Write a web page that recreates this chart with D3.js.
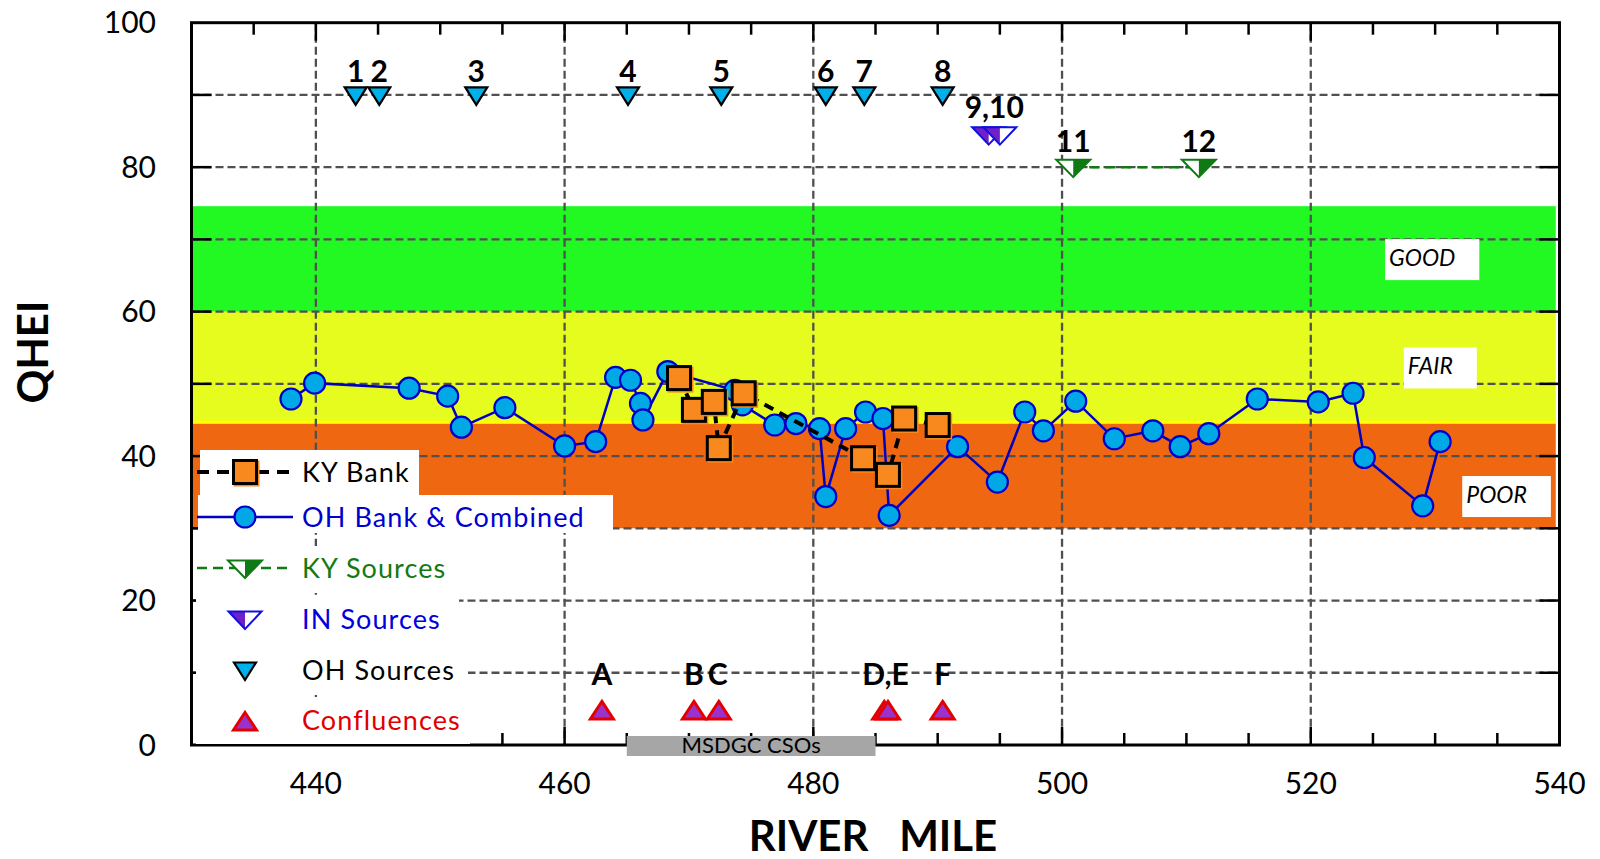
<!DOCTYPE html>
<html lang="en">
<head>
<meta charset="UTF-8">
<title>QHEI vs River Mile</title>
<style>
  body { margin: 0; background: #fff; }
  text { font-family: Lato, "Open Sans", sans-serif; }
</style>
</head>
<body>
<div id="chart"></div>
<script src="https://cdn.jsdelivr.net/npm/d3@7"></script>
<script>
// values
var ohMiles = [438.0, 439.9, 447.5, 450.6, 451.7, 455.2, 460.0, 462.5, 464.1, 465.3, 466.1, 466.3, 468.3, 473.7, 474.3, 476.9, 478.6, 480.5, 481.0, 482.6, 484.2, 485.6, 486.1, 491.6, 494.8, 497.0, 498.5, 501.1, 504.2, 507.3, 509.5, 511.8, 515.7, 520.6, 523.4, 524.3, 529.0, 530.4];
var ohQhei  = [47.9, 50.1, 49.4, 48.3, 44.0, 46.7, 41.4, 42.0, 50.9, 50.5, 47.3, 45.0, 51.7, 49.1, 47.1, 44.3, 44.5, 43.8, 34.4, 43.8, 46.1, 45.2, 31.8, 41.3, 36.4, 46.1, 43.5, 47.6, 42.4, 43.5, 41.3, 43.1, 47.9, 47.5, 48.7, 39.8, 33.1, 42.0];

var kyMiles = [469.2, 470.4, 472.0, 472.4, 474.4, 484.0, 486.0, 487.3, 490.0];
var kyQhei  = [50.8, 46.4, 47.5, 41.1, 48.7, 39.7, 37.4, 45.2, 44.3];

var ohSrcMiles = [443.2, 445.1, 452.9, 465.1, 472.6, 481.0, 484.1, 490.4];
var ohSrcLabels = ["1", "2", "3", "4", "5", "6", "7", "8"];
var ohSrcValue = 90;

var inSrcMiles = [494.1, 495.0];
var inSrcLabel = "9,10";
var inSrcValue = 84.5;

var kySrcMiles = [500.9, 511.0];
var kySrcLabels = ["11", "12"];
var kySrcValue = 80;

var confMiles = [463.0, 470.4, 472.4, 485.7, 486.0, 490.4];
var confLabels = ["A", "B", "C", "D,E", "F"];
var confLabelMiles = [463.0, 470.4, 472.3, 485.8, 490.4];
var confValue = 5;

var bandNames = ["GOOD", "FAIR", "POOR"];
var bandLow   = [60, 44.5, 30];
var bandHigh  = [74.6, 60, 44.5];
var bandLabelMile = [526.3, 527.8, 532.5];
var bandLabelQhei = [66.3, 51.3, 33.5];

var csoRange = [465, 485];
var csoLabel = "MSDGC CSOs";

var xTicks = [440, 460, 480, 500, 520, 540];
var yTicks = [0, 20, 40, 60, 80, 100];

var legendNames = ["KY Bank", "OH Bank & Combined", "KY Sources", "IN Sources", "OH Sources", "Confluences"];
</script>
<script>
    var W = 1600, H = 859;
    var svg = d3.select("#chart").append("svg")
        .attr("width", W).attr("height", H);

    var x = d3.scaleLinear().domain([430, 540]).range([191.5, 1559.5]);
    var y = d3.scaleLinear().domain([0, 100]).range([745, 22.7]);

    var bandColors = ["#22f922", "#e6fc1e", "#ef6710"];
    var gridColor = "#505050";

    // quality bands
    svg.append("g").selectAll("rect").data(bandNames).enter()
        .append("rect")
        .attr("x", x(430))
        .attr("width", x(539.7) - x(430))
        .attr("y", function(d, i) { return y(bandHigh[i]); })
        .attr("height", function(d, i) { return y(bandLow[i]) - y(bandHigh[i]); })
        .style("fill", function(d, i) { return bandColors[i]; });
    svg.append("line")
        .attr("x1", x(430)).attr("x2", x(539.7))
        .attr("y1", y(44.5) - 1.5).attr("y2", y(44.5) - 1.5)
        .style("stroke", "#ffff00").style("stroke-width", 3);

    // grid
    var grid = svg.append("g");
    grid.selectAll("line.h").data(d3.range(10, 100, 10)).enter()
        .append("line").attr("class", "h")
        .attr("x1", x(430)).attr("x2", x(540))
        .attr("y1", function(d) { return y(d); }).attr("y2", function(d) { return y(d); });
    grid.selectAll("line.v").data(d3.range(440, 540, 20)).enter()
        .append("line").attr("class", "v")
        .attr("x1", function(d) { return x(d); }).attr("x2", function(d) { return x(d); })
        .attr("y1", y(100)).attr("y2", y(0));
    grid.selectAll("line")
        .style("stroke", gridColor).style("stroke-width", 2.3).style("stroke-dasharray", "8,4");

    // band labels with white boxes
    var bl = svg.append("g");
    bandNames.forEach(function(name, i) {
        var g = bl.append("g");
        var r = g.append("rect").style("fill", "#fff");
        var t = g.append("text")
            .attr("x", x(bandLabelMile[i])).attr("y", y(bandLabelQhei[i]))
            .style("font-size", "23px").style("font-style", "italic")
            .text(name);
        var bb = t.node().getBBox();
        r.attr("x", bb.x - 4).attr("width", bb.width + 28)
         .attr("y", y(bandLabelQhei[i]) - 27).attr("height", 41);
    });

    // frame and ticks
    var frame = svg.append("g").style("stroke", "#000");
    frame.append("rect")
        .attr("x", x(430)).attr("y", y(100))
        .attr("width", x(540) - x(430)).attr("height", y(0) - y(100))
        .style("fill", "none").style("stroke-width", 3);
    d3.range(435, 540, 5).forEach(function(m) {
        var len = (m % 20 === 0) ? 18 : 12;
        frame.append("line").attr("x1", x(m)).attr("x2", x(m))
            .attr("y1", y(0)).attr("y2", y(0) - len).style("stroke-width", 2.5);
        frame.append("line").attr("x1", x(m)).attr("x2", x(m))
            .attr("y1", y(100)).attr("y2", y(100) + len).style("stroke-width", 2.5);
    });
    d3.range(10, 100, 10).forEach(function(v) {
        frame.append("line").attr("x1", x(430)).attr("x2", x(430) + 20)
            .attr("y1", y(v)).attr("y2", y(v)).style("stroke-width", 2.5);
        frame.append("line").attr("x1", x(540)).attr("x2", x(540) - 20)
            .attr("y1", y(v)).attr("y2", y(v)).style("stroke-width", 2.5);
    });

    // tick labels
    svg.append("g").selectAll("text").data(xTicks).enter()
        .append("text")
        .attr("x", function(d) { return x(d); })
        .attr("y", 794)
        .attr("text-anchor", "middle")
        .style("font-size", "30px")
        .text(function(d) { return d; });
    svg.append("g").selectAll("text").data(yTicks).enter()
        .append("text")
        .attr("x", 156)
        .attr("y", function(d) { return y(d) + 10.5; })
        .attr("text-anchor", "end")
        .style("font-size", "30px")
        .text(function(d) { return d; });

    // axis titles
    svg.append("text")
        .attr("x", 873).attr("y", 851)
        .attr("text-anchor", "middle")
        .style("font-size", "42px").style("font-weight", "bold")
        .style("white-space", "pre")
        .text("RIVER   MILE");
    svg.append("text")
        .attr("transform", "translate(48,352) rotate(-90)")
        .attr("text-anchor", "middle")
        .style("font-size", "42px").style("font-weight", "bold")
        .text("QHEI");

    // CSO bar
    svg.append("rect")
        .attr("x", x(csoRange[0])).attr("width", x(csoRange[1]) - x(csoRange[0]))
        .attr("y", 736).attr("height", 20)
        .style("fill", "#a6a6a6");
    svg.append("text")
        .attr("x", (x(csoRange[0]) + x(csoRange[1])) / 2).attr("y", 753)
        .attr("text-anchor", "middle")
        .style("font-size", "22px")
        .text(csoLabel);

    // marker shapes
    function downTri(w) { return "M" + (-w/2) + ",-7.5L" + (w/2) + ",-7.5L0,10Z"; }
    function leftHalf(w) { return "M" + (-w/2) + ",-7.5L0,-7.5L0,10Z"; }
    function rightHalf(w) { return "M0,-7.5L" + (w/2) + ",-7.5L0,10Z"; }
    var upTri = "M0,-7.5L11.5,10L-11.5,10Z";

    function drawOHsrc(g) {
        g.append("path").attr("d", downTri(22))
            .style("fill", "#00b0ea").style("stroke", "#000").style("stroke-width", 2.2)
            .style("stroke-linejoin", "miter");
    }
    function drawINsrc(g) {
        g.append("path").attr("d", downTri(33)).style("fill", "#fff");
        g.append("path").attr("d", leftHalf(33)).style("fill", "#7020c8");
        g.append("path").attr("d", downTri(33))
            .style("fill", "none").style("stroke", "#1010e0").style("stroke-width", 2);
    }
    function drawKYsrc(g) {
        g.append("path").attr("d", downTri(34)).style("fill", "#fff");
        g.append("path").attr("d", rightHalf(34)).style("fill", "#0f7a14");
        g.append("path").attr("d", downTri(34))
            .style("fill", "none").style("stroke", "#0f7a14").style("stroke-width", 2);
    }
    function drawConf(g) {
        g.append("path").attr("d", upTri)
            .style("fill", "#9933cc").style("stroke", "#e40000").style("stroke-width", 3)
            .style("stroke-linejoin", "miter");
    }
    function drawCircle(g) {
        g.append("circle").attr("r", 10.5)
            .style("fill", "#00a8e6").style("stroke", "#0000c8").style("stroke-width", 2.2);
    }
    function drawSquare(g) {
        g.append("rect").attr("x", -11.5).attr("y", -11.5).attr("width", 26).attr("height", 26)
            .style("fill", "#f7891f");
        g.append("rect").attr("x", -11.5).attr("y", -11.5).attr("width", 23).attr("height", 23)
            .style("fill", "none").style("stroke", "#000").style("stroke-width", 3);
    }

    // OH bank line + circles
    var ohData = ohMiles.map(function(m, i) { return {m: m, v: ohQhei[i]}; });
    var line = d3.line().x(function(d) { return x(d.m); }).y(function(d) { return y(d.v); });
    svg.append("path").datum(ohData).attr("d", line)
        .style("fill", "none").style("stroke", "#0000c0").style("stroke-width", 2.5);
    svg.append("g").selectAll("g").data(ohData).enter()
        .append("g")
        .attr("transform", function(d) { return "translate(" + x(d.m) + "," + y(d.v) + ")"; })
        .each(function() { drawCircle(d3.select(this)); });

    // KY bank dashed line + squares
    var kyData = kyMiles.map(function(m, i) { return {m: m, v: kyQhei[i]}; });
    svg.append("path").datum(kyData).attr("d", line)
        .style("fill", "none").style("stroke", "#000").style("stroke-width", 4)
        .style("stroke-dasharray", "10,7");
    svg.append("g").selectAll("g").data(kyData).enter()
        .append("g")
        .attr("transform", function(d) { return "translate(" + x(d.m) + "," + y(d.v) + ")"; })
        .each(function() { drawSquare(d3.select(this)); });

    // sources
    var lblStyle = function(t) {
        t.attr("text-anchor", "middle").style("font-size", "30px").style("font-weight", "bold");
    };
    svg.append("g").selectAll("g").data(ohSrcMiles).enter()
        .append("g")
        .attr("transform", function(d) { return "translate(" + x(d) + "," + y(ohSrcValue) + ")"; })
        .each(function() { drawOHsrc(d3.select(this)); });
    svg.append("g").selectAll("text").data(ohSrcMiles).enter()
        .append("text")
        .attr("x", function(d) { return x(d); })
        .attr("y", y(ohSrcValue) - 13)
        .text(function(d, i) { return ohSrcLabels[i]; })
        .call(lblStyle);

    svg.append("g").selectAll("g").data(inSrcMiles).enter()
        .append("g")
        .attr("transform", function(d) { return "translate(" + x(d) + "," + y(inSrcValue) + ")"; })
        .each(function() { drawINsrc(d3.select(this)); });
    svg.append("text")
        .attr("x", x(d3.mean(inSrcMiles)))
        .attr("y", y(inSrcValue) - 16.5)
        .text(inSrcLabel)
        .call(lblStyle);

    svg.append("path")
        .attr("d", "M" + x(kySrcMiles[0]) + "," + y(kySrcValue) + "L" + x(kySrcMiles[1]) + "," + y(kySrcValue))
        .style("stroke", "#0f7a14").style("stroke-width", 2.5).style("stroke-dasharray", "10,6");
    svg.append("g").selectAll("g").data(kySrcMiles).enter()
        .append("g")
        .attr("transform", function(d) { return "translate(" + x(d) + "," + y(kySrcValue) + ")"; })
        .each(function() { drawKYsrc(d3.select(this)); });
    svg.append("g").selectAll("text").data(kySrcMiles).enter()
        .append("text")
        .attr("x", function(d) { return x(d); })
        .attr("y", y(kySrcValue) - 15.5)
        .text(function(d, i) { return kySrcLabels[i]; })
        .call(lblStyle);

    svg.append("g").selectAll("g").data(confMiles).enter()
        .append("g")
        .attr("transform", function(d) { return "translate(" + x(d) + "," + y(confValue) + ")"; })
        .each(function() { drawConf(d3.select(this)); });
    svg.append("g").selectAll("text").data(confLabelMiles).enter()
        .append("text")
        .attr("x", function(d) { return x(d); })
        .attr("y", y(confValue) - 24)
        .text(function(d, i) { return confLabels[i]; })
        .call(lblStyle);

    // legend
    var legColors = ["#000", "#0000cc", "#137a13", "#0000dd", "#000", "#e00000"];
    var legY = [472, 517, 568, 619, 670, 720];
    var legBox = [[200, 450, 419, 495], [198, 495, 613, 533], [196, 546, 459, 593],
                  [196, 595, 459, 644], [196, 646, 468, 695], [196, 697, 470, 744]];
    var leg = svg.append("g");
    legendNames.forEach(function(name, i) {
        var b = legBox[i];
        leg.append("rect").attr("x", b[0]).attr("y", b[1])
            .attr("width", b[2] - b[0]).attr("height", b[3] - b[1]).style("fill", "#fff");
        var g = leg.append("g").attr("transform", "translate(245," + legY[i] + ")");
        if (i === 0) {
            g.append("line").attr("x1", -48).attr("x2", 48)
                .style("stroke", "#000").style("stroke-width", 4).style("stroke-dasharray", "12,8");
            drawSquare(g);
        } else if (i === 1) {
            g.append("line").attr("x1", -48).attr("x2", 48)
                .style("stroke", "#0000c0").style("stroke-width", 2.5);
            drawCircle(g);
        } else if (i === 2) {
            g.append("line").attr("x1", -48).attr("x2", 48)
                .style("stroke", "#0f7a14").style("stroke-width", 2.5).style("stroke-dasharray", "10,6");
            drawKYsrc(g);
        } else if (i === 3) {
            drawINsrc(g);
        } else if (i === 4) {
            drawOHsrc(g);
        } else {
            drawConf(g);
        }
        leg.append("text")
            .attr("x", 302).attr("y", legY[i] + 9.5)
            .style("font-size", "27px").style("letter-spacing", "1.1px")
            .style("fill", legColors[i])
            .text(name);
    });
</script>
</body>
</html>
